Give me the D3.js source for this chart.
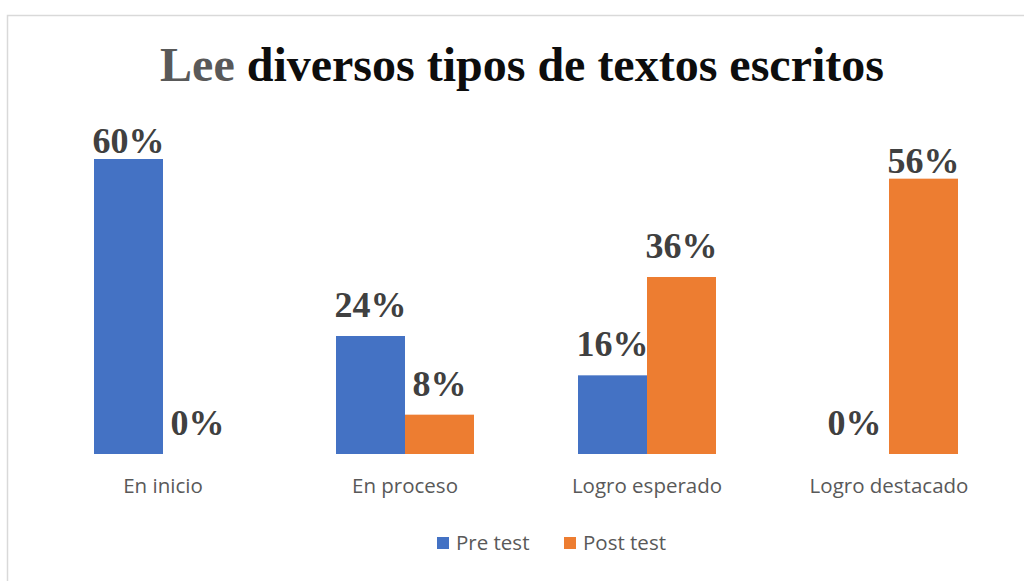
<!DOCTYPE html>
<html>
<head>
<meta charset="utf-8">
<script src="https://cdn.jsdelivr.net/npm/d3@7"></script>
<style>
  body { margin: 0; background: #fff; }
</style>
</head>
<body>
<script>
// chart data
const categories = ["En inicio", "En proceso", "Logro esperado", "Logro destacado"];
const series = ["Pre test", "Post test"];
const preTest = [60, 24, 16, 0];
const postTest = [0, 8, 36, 56];

const colors = ["#4472C4", "#ED7D31"];

const width = 1024, height = 581;

const svg = d3.select("body").append("svg")
    .attr("width", width)
    .attr("height", height);

// chart frame
svg.append("rect")
    .attr("x", 7.5)
    .attr("y", 15.5)
    .attr("width", 1100)
    .attr("height", 1000)
    .attr("fill", "#fff")
    .attr("stroke", "#d9d9d9")
    .attr("stroke-width", 1.5);

// title
const title = svg.append("text")
    .attr("x", 522)
    .attr("y", 81)
    .attr("text-anchor", "middle")
    .style("font-family", "'Liberation Serif', 'Times New Roman', serif")
    .style("font-weight", "bold")
    .style("font-size", "48px");
title.append("tspan").attr("fill", "#595959").text("Lee ");
title.append("tspan").attr("fill", "#0d0d0d").text("diversos tipos de textos escritos");

// scales
const x = d3.scaleBand()
    .domain(categories)
    .range([42, 1010])
    .paddingInner(0)
    .paddingOuter(0);

const x1 = d3.scaleBand()
    .domain(series)
    .range([x.bandwidth() / 2 - 69, x.bandwidth() / 2 + 69]);

const y = d3.scaleLinear()
    .domain([0, 60])
    .range([454, 159]);

const rows = categories.map((c, i) => ({
  category: c,
  values: [
    { key: series[0], value: preTest[i], color: colors[0] },
    { key: series[1], value: postTest[i], color: colors[1] }
  ]
}));

const groups = svg.append("g")
  .selectAll("g")
  .data(rows)
  .join("g")
    .attr("transform", d => `translate(${x(d.category)},0)`);

groups.selectAll("rect")
  .data(d => d.values)
  .join("rect")
    .attr("x", d => x1(d.key))
    .attr("y", d => y(d.value))
    .attr("width", x1.bandwidth())
    .attr("height", d => y(0) - y(d.value))
    .attr("fill", d => d.color);

// data labels
groups.selectAll("text")
  .data(d => d.values)
  .join("text")
    .attr("x", d => x1(d.key) + x1.bandwidth() / 2)
    .attr("y", d => y(d.value) - (d.value >= 50 ? 6 : 19))
    .attr("text-anchor", "middle")
    .attr("fill", "#404040")
    .style("font-family", "'Liberation Serif', 'Times New Roman', serif")
    .style("font-weight", "bold")
    .style("font-size", "36px")
    .text(d => d.value + "%");

// category axis labels
svg.append("g")
  .selectAll("text")
  .data(categories)
  .join("text")
    .attr("x", d => x(d) + x.bandwidth() / 2)
    .attr("y", 493)
    .attr("text-anchor", "middle")
    .attr("fill", "#595959")
    .style("font-family", "'Open Sans', sans-serif")
    .style("font-size", "20.5px")
    .text(d => d);

// legend
const legendX = [437, 564];
const legend = svg.append("g")
  .selectAll("g")
  .data(series)
  .join("g")
    .attr("transform", (d, i) => `translate(${legendX[i]},537)`);

legend.append("rect")
    .attr("width", 12)
    .attr("height", 12)
    .attr("fill", (d, i) => colors[i]);

legend.append("text")
    .attr("x", 19)
    .attr("y", 13)
    .attr("fill", "#595959")
    .style("font-family", "'Open Sans', sans-serif")
    .style("font-size", "20.5px")
    .text(d => d);
</script>
</body>
</html>
